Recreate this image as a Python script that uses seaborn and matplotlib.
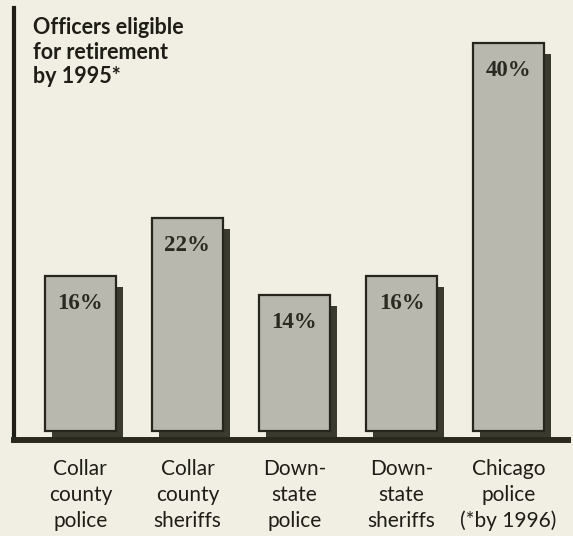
import matplotlib
matplotlib.use('Agg')
import matplotlib.pyplot as plt
import matplotlib.transforms as mtransforms
import seaborn as sns
import pandas as pd

categories = ["Collar\ncounty\npolice", "Collar\ncounty\nsheriffs",
              "Down-\nstate\npolice", "Down-\nstate\nsheriffs",
              "Chicago\npolice\n(*by 1996)"]
values = [16, 22, 14, 16, 40]
value_labels = ["16%", "22%", "14%", "16%", "40%"]
title_lines = ["Officers eligible", "for retirement", "by 1995*"]

sns.set_theme(style="white")
plt.rcParams['font.family'] = ['Lato', 'DejaVu Sans']

W, H = 573, 536
fig = plt.figure(figsize=(W / 100, H / 100), dpi=100)
bg = '#f1efe3'
fig.patch.set_facecolor(bg)
ax = fig.add_axes([14 / W, 96 / H, (568 - 14) / W, (528 - 96) / H])
ax.set_facecolor(bg)

df = pd.DataFrame({'cat': categories, 'val': values})

# shadows
sns.barplot(data=df, x='cat', y='val', color='#3b3a2f', width=0.67, ax=ax,
            saturation=1, edgecolor='none', linewidth=0, errorbar=None, zorder=2)
shadow_patches = list(ax.patches)
offset = mtransforms.ScaledTranslation(7 / 100, -11 / 100, fig.dpi_scale_trans)
for p in shadow_patches:
    p.set_transform(ax.transData + offset)

# front bars
sns.barplot(data=df, x='cat', y='val', color='#b9b8ae', width=0.67, ax=ax,
            saturation=1, edgecolor='#26251e', linewidth=1.6, errorbar=None, zorder=3)

ax.set_ylim(-0.93, 43.6)
ax.set_xlim(-0.62, 4.556)

for i, (v, lab) in enumerate(zip(values, value_labels)):
    ax.annotate(lab, xy=(i, v), xytext=(0, -20), textcoords='offset points',
                ha='center', va='center', fontsize=16.5, fontweight='bold',
                family=['Liberation Serif', 'DejaVu Serif'], color='#2a2922', zorder=5)

for s in ['top', 'right']:
    ax.spines[s].set_visible(False)
ax.spines['left'].set_linewidth(3)
ax.spines['left'].set_color('#1e1d17')
ax.spines['bottom'].set_linewidth(4.3)
ax.spines['bottom'].set_color('#2a2920')
ax.spines['left'].set_zorder(6)
ax.spines['bottom'].set_zorder(6)

ax.set_yticks([])
ax.set_xlabel('')
ax.set_ylabel('')
ax.tick_params(axis='x', length=0, pad=14, labelsize=15, labelcolor='#1e1d17')
for t in ax.get_xticklabels():
    t.set_linespacing(1.35)

fig.text(33 / W, 1 - 17 / H, "\n".join(title_lines), va='top', ha='left',
         fontsize=15.5, fontweight='bold', linespacing=1.22, color='#1e1d17',
         zorder=10)

fig.savefig('out.png', dpi=100, facecolor=bg)
